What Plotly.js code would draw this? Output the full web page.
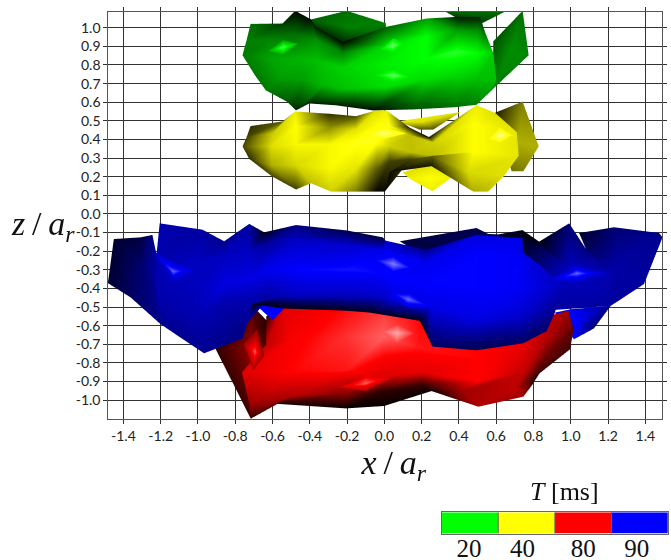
<!DOCTYPE html>
<html><head><meta charset="utf-8">
<script src="https://cdn.plot.ly/plotly-3.0.1.min.js"></script>
<style>html,body{margin:0;padding:0;background:#fff}#c{width:671px;height:560px;filter:blur(.45px)}</style>
</head><body><div id="c"></div>
<script>
// tick labels
const xTicks=[-1.4,-1.2,-1.0,-0.8,-0.6,-0.4,-0.2,0,0.2,0.4,0.6,0.8,1.0,1.2,1.4];
const xTickText=["-1.4","-1.2","-1.0","-0.8","-0.6","-0.4","-0.2","0.0","0.2","0.4","0.6","0.8","1.0","1.2","1.4"];
const zTicks=[1,.9,.8,.7,.6,.5,.4,.3,.2,.1,0,-.1,-.2,-.3,-.4,-.5,-.6,-.7,-.8,-.9,-1];
const zTickText=["1.0","0.9","0.8","0.7","0.6","0.5","0.4","0.3","0.2","0.1","0.0","-0.1","-0.2","-0.3","-0.4","-0.5","-0.6","-0.7","-0.8","-0.9","-1.0"];
// legend
const times=["20","40","80","90"];
const timeColors=["#00ff00","#ffff00","#ff0000","#0000ff"];

// surfaces: each vertex is [x/a_r, z/a_r, shade], shade 0 = black, .8 = pure colour, 1 = highlight
const greenBand=[
[[-.714,1.016,.35],[-.543,1.018,.2],[-.475,1.086,.02],[-.39,1.04,.05],[-.364,1.0,.08],[-.221,.92,.02],[.011,1.0,.3],[.227,1.045,.5],[.396,1.054,.08],[.513,1.054,.08]],
[[-.735,.93,.4],[-.6,.93,.42],[-.47,.96,.35],[-.36,.93,.45],[-.22,.86,.42],[.01,.9,.68],[.227,.95,.8],[.39,.98,.5],[.5,.98,.45],[.54,.973,.35]],
[[-.757,.848,.38],[-.6,.83,.52],[-.47,.83,.56],[-.36,.82,.6],[-.22,.78,.66],[.01,.8,.75],[.227,.83,.8],[.39,.87,.85],[.5,.86,.8],[.584,.86,.65]],
[[-.69,.74,.38],[-.56,.73,.5],[-.44,.72,.5],[-.32,.69,.58],[-.2,.67,.62],[.01,.68,.7],[.227,.72,.7],[.39,.74,.68],[.5,.72,.6],[.6,.72,.6]],
[[-.632,.66,.38],[-.52,.6,.28],[-.471,.553,.12],[-.4,.59,.1],[-.257,.58,.1],[-.06,.553,.05],[.156,.558,.25],[.38,.57,.35],[.495,.583,.4],[.584,.669,.45]]];
const greenBackLeft=[[-.2,1.0,.4],[[-.39,1.04,.3],[-.2,1.086,.35],[.01,1.02,.4],[.01,.95,.3],[-.22,.88,.02],[-.39,.98,.1]]];
const greenBackRight=[[.49,1.06,.3],[[.32,1.086,.3],[.656,1.086,.35],[.521,1.018,.2],[.402,1.04,.15]]];
const greenWing=[[.68,.88,.45],[[.584,.923,.25],[.741,1.086,.35],[.773,.848,.42],[.584,.669,.4]]];
const greenLights=[
[[-.54,.89,.92],[[-.62,.87,.52],[-.54,.93,.5],[-.46,.91,.54],[-.54,.85,.54]]],
[[.05,.74,.92],[[-.05,.74,.72],[.05,.78,.72],[.16,.73,.7],[.05,.7,.7]]],
[[.045,.9,.92],[[-.02,.88,.72],[.05,.94,.74],[.11,.91,.74],[.05,.86,.74]]]];

const yellowBand=[
[[-.714,.469,.15],[-.543,.494,.3],[-.475,.547,.75],[-.293,.535,.15],[-.15,.522,.25],[-.043,.553,.7],[.013,.553,.75],[.138,.46,.12],[.24,.41,.02],[.495,.58,.75],[.593,.54,.7]],
[[-.735,.41,.2],[-.6,.43,.62],[-.47,.47,.8],[-.29,.46,.45],[-.15,.45,.72],[-.04,.47,.8],[.03,.47,.8],[.138,.42,.6],[.263,.38,.65],[.48,.48,.8],[.71,.436,.72]],
[[-.757,.36,.22],[-.6,.36,.7],[-.47,.37,.78],[-.29,.37,.78],[-.15,.38,.82],[-.04,.38,.82],[.03,.36,.65],[.14,.33,.6],[.263,.31,.6],[.48,.33,.8],[.72,.31,.72]],
[[-.721,.293,.15],[-.6,.26,.55],[-.47,.26,.68],[-.29,.24,.78],[-.15,.24,.72],[-.04,.24,.3],[.03,.28,.2],[.14,.29,.2],[.26,.31,.3],[.45,.22,.68],[.64,.2,.7]],
[[-.6,.2,.22],[-.471,.129,.2],[-.391,.163,.6],[-.284,.118,.65],[-.15,.118,.4],[-.043,.118,.03],[.004,.118,.03],[.03,.222,.03],[.254,.254,.08],[.477,.118,.55],[.557,.118,.6]]];
const yellowBackTop=[[.2,.49,.7],[[.075,.494,.75],[.409,.544,.7],[.263,.45,.25],[.19,.45,.25]]];
const yellowBackLow=[[.25,.19,.8],[[.138,.186,.75],[.1,.22,.7],[.254,.27,.7],[.37,.2,.75],[.259,.12,.75]]];
const yellowWing=[[.72,.38,.55],[[.593,.54,.08],[.741,.6,.4],[.827,.36,.55],[.745,.227,.4],[.682,.227,.35]]];
const yellowLights=[
[[.62,.42,.95],[[.56,.4,.78],[.62,.46,.78],[.69,.42,.76],[.62,.38,.78]]],
[[.0,.43,.92],[[-.1,.42,.8],[.0,.46,.8],[.12,.43,.8],[.0,.4,.8]]]];

const redBand=[
[[-.63,-.55,.15],[-.534,-.48,.7],[-.2,-.48,.8],[0,-.5,.85],[.19,-.55,.8],[.5,-.6,.8],[.745,-.6,.75],[.87,-.55,.6],[.986,-.52,.5]],
[[-.63,-.7,.6],[-.5,-.68,.78],[-.2,-.66,.85],[0,-.66,.9],[.19,-.72,.82],[.5,-.78,.8],[.745,-.72,.72],[.87,-.68,.55],[1.013,-.619,.3]],
[[-.76,-.85,.7],[-.5,-.85,.8],[-.2,-.84,.82],[0,-.87,.7],[.2,-.85,.72],[.5,-.9,.8],[.745,-.85,.62],[.85,-.78,.35],[.995,-.726,.2]],
[[-.72,-1.02,.5],[-.5,-.98,.55],[-.2,-.96,.45],[0,-.95,.15],[.2,-.92,.15],[.42,-.95,.5],[.7,-.93,.6],[.8,-.88,.2],[.834,-.851,.1]],
[[-.713,-1.098,.15],[-.579,-1.018,.1],[-.204,-1.043,.02],[0,-1.03,.02],[.254,-.95,.05],[.504,-1.034,.55],[.745,-.98,.5],[.79,-.92,.1],[.834,-.851,.05]]];
const redBack=[[-.72,-.72,.45],[[-.704,-.494,.25],[-.63,-.57,.1],[-.63,-.82,.35],[-.76,-.85,.5],[-.713,-1.098,.2],[-.9,-.726,.15]]];
const redLights=[
[[-.69,-.74,.9],[[-.75,-.7,.52],[-.68,-.62,.45],[-.64,-.76,.45],[-.7,-.84,.52]]],
[[.07,-.64,.98],[[-.02,-.63,.88],[.07,-.59,.85],[.16,-.64,.85],[.07,-.69,.88]]],
[[-.1,-.91,.9],[[-.24,-.93,.68],[-.1,-.88,.8],[.04,-.88,.68],[-.1,-.95,.55]]]];

const blueBand=[
[[-1.2,-.052,.55],[-.971,-.086,.5],[-.855,-.148,.45],[-.721,-.055,.5],[-.641,-.1,.1],[-.471,-.061,.4],[-.2,-.09,.25],[-.007,-.127,.2],[.009,-.145,.6],[.227,-.193,.45],[.495,-.114,.7],[.74,-.132,.72],[.744,-.207,.7]],
[[-1.22,-.25,.55],[-1,-.26,.6],[-.85,-.22,.6],[-.72,-.2,.6],[-.62,-.16,.5],[-.47,-.14,.62],[-.2,-.17,.65],[0,-.2,.75],[.03,-.22,.8],[.23,-.26,.75],[.5,-.22,.8],[.72,-.25,.78],[.85,-.29,.65]],
[[-1.22,-.4,.55],[-1,-.4,.6],[-.85,-.38,.7],[-.72,-.35,.72],[-.62,-.3,.75],[-.47,-.3,.8],[-.2,-.3,.82],[0,-.32,.8],[.03,-.34,.8],[.23,-.38,.8],[.5,-.4,.8],[.72,-.4,.78],[.95,-.377,.6]],
[[-1.195,-.55,.5],[-1,-.55,.55],[-.85,-.47,.55],[-.72,-.46,.55],[-.62,-.46,.5],[-.47,-.44,.6],[-.2,-.44,.6],[0,-.44,.65],[.05,-.46,.7],[.25,-.5,.72],[.5,-.56,.72],[.72,-.55,.65],[.914,-.53,.45]],
[[-1.195,-.592,.45],[-.963,-.748,.45],[-.757,-.669,.4],[-.73,-.583,.5],[-.704,-.485,.05],[-.534,-.508,.05],[-.2,-.52,.1],[-.077,-.53,.1],[.191,-.574,.1],[.259,-.712,.3],[.495,-.732,.25],[.745,-.694,.3],[.87,-.628,.35]]];
const blueLeftWing=[[-1.3,-.3,.35],[[-1.445,-.136,.15],[-1.302,-.127,.2],[-1.239,-.114,.4],[-1.2,-.3,.55],[-1.195,-.592,.45],[-1.355,-.449,.3],[-1.477,-.372,.15]]];
const blueRidgeBack=[[.45,-.14,.25],[[.084,-.148,.2],[.495,-.077,.25],[.557,-.109,.25],[.691,-.114,.1],[.74,-.088,.05],[.829,-.15,.02],[.7,-.25,.2],[.25,-.25,.2]]];
const blueWingFront=[[1.0,-.3,.62],[[.74,-.12,.05],[.829,-.15,.05],[.99,-.052,.35],[1.08,-.19,.4],[1.22,-.32,.55],[1.212,-.494,.5],[.85,-.52,.5],[.75,-.3,.3]]];
const blueWingFar=[[1.25,-.25,.5],[[1.043,-.104,.15],[1.23,-.073,.35],[1.471,-.104,.45],[1.489,-.127,.45],[1.39,-.377,.5],[1.212,-.494,.5],[1.22,-.32,.55],[1.08,-.19,.3]]];
const blueLower=[[1.03,-.57,.8],[[.914,-.53,.75],[.998,-.512,.75],[1.212,-.494,.45],[1.122,-.615,.35],[1.015,-.673,.8]]];
const blueTriangle=[[-.6,-.52,.8],[[-.695,-.48,.8],[-.534,-.508,.8],[-.596,-.571,.8]]];
const blueLights=[
[[-1.13,-.31,.92],[[-1.24,-.2,.6],[-1.12,-.26,.62],[-1.0,-.3,.6],[-1.12,-.37,.58]]],
[[.05,-.27,.95],[[-.04,-.25,.8],[.05,-.23,.8],[.14,-.29,.8],[.05,-.31,.8]]],
[[.13,-.46,.92],[[.01,-.41,.7],[.14,-.42,.74],[.26,-.5,.74],[.12,-.5,.7]]],
[[1.03,-.32,.92],[[.86,-.36,.6],[1.03,-.28,.65],[1.22,-.32,.55],[1.03,-.37,.62]]]];

function newMesh(){return {x:[],y:[],z:[],i:[],j:[],k:[],s:[]};}
function push(m,v,d){m.x.push(v[0]);m.y.push(d);m.z.push(v[1]);m.s.push(v[2]);return m.x.length-1;}
function grid(m,rows,d){
  const id=rows.map(r=>r.map(v=>push(m,v,d)));
  for(let r=0;r<id.length-1;r++)for(let c=0;c<id[r].length-1;c++){
    m.i.push(id[r][c],id[r][c+1]);m.j.push(id[r+1][c],id[r+1][c]);m.k.push(id[r][c+1],id[r+1][c+1]);
  }
}
function fan(m,p,d){
  const c=push(m,p[0],d),ring=p[1].map(v=>push(m,v,d));
  ring.forEach((a,n)=>{m.i.push(c);m.j.push(a);m.k.push(ring[(n+1)%ring.length]);});
}
function trace(m,rgb,light){
  return {type:'mesh3d',x:m.x,y:m.y,z:m.z,i:m.i,j:m.j,k:m.k,intensity:m.s,intensitymode:'vertex',cmin:0,cmax:1,showscale:false,
    colorscale:[[0,'rgb(0,0,0)'],[.8,rgb],[1,light]],flatshading:false,hoverinfo:'skip',
    lighting:{ambient:1,diffuse:0,specular:0,roughness:1,fresnel:0}};
}
const g=newMesh();fan(g,greenBackLeft,.9);fan(g,greenBackRight,.9);fan(g,greenWing,.85);grid(g,greenBand,.5);greenLights.forEach(p=>fan(g,p,.1));
const y=newMesh();fan(y,yellowBackTop,.9);fan(y,yellowBackLow,.9);fan(y,yellowWing,.85);grid(y,yellowBand,.4);yellowLights.forEach(p=>fan(y,p,.1));
const r=newMesh();fan(r,redBack,.8);grid(r,redBand,.7);redLights.forEach(p=>fan(r,p,.65));
const b=newMesh();fan(b,blueLower,.85);fan(b,blueLeftWing,.6);fan(b,blueRidgeBack,.6);fan(b,blueWingFar,.55);fan(b,blueWingFront,.5);fan(b,blueTriangle,.3);grid(b,blueBand,.2);blueLights.forEach(p=>fan(b,p,.1));

const W=671,H=560,L=108.3,R=662.3,T=12.3,B=419.3;
const grid2='#333';
const tickFont={family:'Lato, sans-serif',size:14,color:'#222'};
const data=[
 {type:'scatter',x:[-1.4,1.4],y:[-1,1],mode:'markers',marker:{opacity:0},hoverinfo:'skip',showlegend:false,xaxis:'x',yaxis:'y'},
 trace(g,'rgb(0,255,0)','rgb(190,255,190)'),
 trace(y,'rgb(255,255,0)','rgb(255,255,190)'),
 trace(r,'rgb(255,0,0)','rgb(255,190,190)'),
 trace(b,'rgb(0,0,255)','rgb(170,170,255)'),
 {type:'heatmap',z:[[0,1,2,3]],x:[.5,1.5,2.5,3.5],y:[0],xaxis:'x2',yaxis:'y2',showscale:false,zmin:0,zmax:3,hoverinfo:'skip',
  colorscale:[[0,timeColors[0]],[.25,timeColors[0]],[.25,timeColors[1]],[.5,timeColors[1]],[.5,timeColors[2]],[.75,timeColors[2]],[.75,timeColors[3]],[1,timeColors[3]]]}
];
const layout={width:W,height:H,margin:{l:0,r:0,t:0,b:0},paper_bgcolor:'#fff',plot_bgcolor:'#fff',showlegend:false,
 xaxis:{domain:[L/W,R/W],range:[-1.481,1.491],tickmode:'array',tickvals:xTicks,ticktext:xTickText,tickfont:tickFont,ticks:'outside',ticklen:4,tickwidth:1,tickcolor:grid2,
   showgrid:true,gridcolor:grid2,gridwidth:1,zeroline:false,showline:true,linecolor:'#555',linewidth:1,mirror:'ticks',anchor:'y',
   title:{text:'&nbsp;&nbsp;<i>x</i>\u2009/\u2009<i>a<sub>r</sub></i>',font:{family:'Liberation Serif, serif',size:34,color:'#111'},standoff:0}},
 yaxis:{domain:[1-B/H,1-T/H],range:[-1.103,1.083],tickmode:'array',tickvals:zTicks,ticktext:zTickText,tickfont:tickFont,ticks:'outside',ticklen:4,tickwidth:1,tickcolor:grid2,
   showgrid:true,gridcolor:grid2,gridwidth:1,zeroline:false,showline:true,linecolor:'#555',linewidth:1,mirror:'ticks',anchor:'x'},
 xaxis2:{domain:[441.7/W,668/W],range:[0,4],tickmode:'array',tickvals:[.482,1.43,2.5,3.447],ticktext:times,tickfont:{family:'Liberation Serif, serif',size:25,color:'#111'},ticks:'',ticklen:0,ticklabelstandoff:-8,showgrid:false,zeroline:false,showline:true,linecolor:'#666',mirror:true,anchor:'y2'},
 yaxis2:{domain:[1-533.7/H,1-512.3/H],range:[-.5,.5],showticklabels:false,ticks:'',showgrid:false,zeroline:false,showline:true,linecolor:'#666',mirror:true,anchor:'x2'},
 scene:{domain:{x:[L/W,R/W],y:[1-B/H,1-T/H]},bgcolor:'rgba(0,0,0,0)',aspectmode:'manual',aspectratio:{x:2.731,y:.2233,z:2.006},
   xaxis:{visible:false,range:[-1.481,1.491]},yaxis:{visible:false,range:[0,1]},zaxis:{visible:false,range:[-1.103,1.083]},
   camera:{projection:{type:'orthographic'},eye:{x:0,y:-2,z:0},up:{x:0,y:0,z:1},center:{x:0,y:0,z:0}}},
 shapes:[1,2,3].map(v=>({type:'line',xref:'x2',yref:'y2',x0:v,x1:v,y0:-.5,y1:.5,line:{color:'#666',width:1}})),
 annotations:[
  {xref:'paper',yref:'paper',x:43/W,y:1-226/H,xanchor:'center',yanchor:'middle',showarrow:false,text:'<i>z</i>\u2009/\u2009<i>a<sub>r</sub></i>',font:{family:'Liberation Serif, serif',size:34,color:'#111'}},
  {xref:'paper',yref:'paper',x:564/W,y:1-491/H,xanchor:'center',yanchor:'middle',showarrow:false,text:'<i>T</i> [ms]',font:{family:'Liberation Serif, serif',size:26,color:'#111'}}
 ]
};
Plotly.newPlot('c',data,layout,{displayModeBar:false});
</script></body></html>
